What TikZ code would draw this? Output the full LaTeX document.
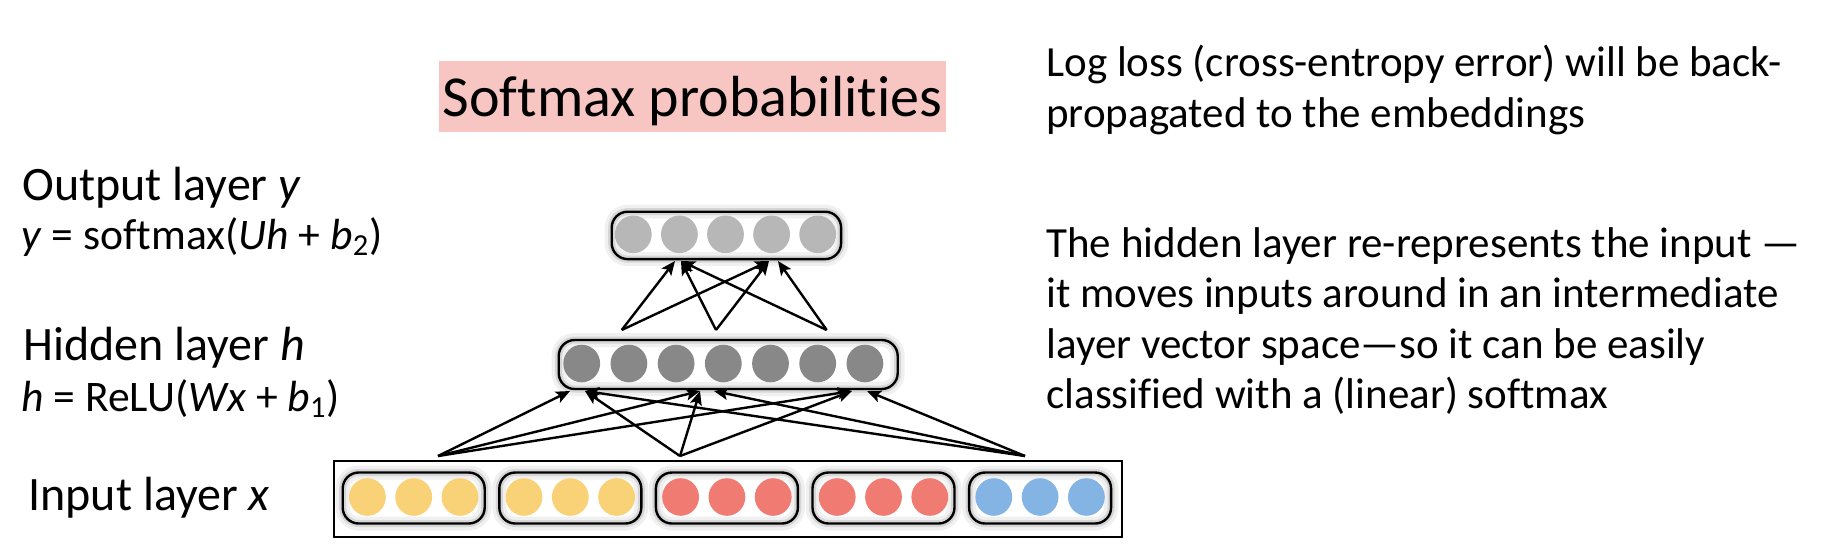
\documentclass[tikz,border=0pt]{standalone}
\usepackage{xcolor}
\usepackage{fontspec}
\setmainfont{Carlito}[Ligatures=NoCommon]
\usepackage{tikz}
\usetikzlibrary{arrows.meta, shapes.geometric}

\definecolor{softpink}{RGB}{247,198,195}
\definecolor{inyellow}{RGB}{249,209,118}
\definecolor{inred}{RGB}{240,123,114}
\definecolor{inblue}{RGB}{132,180,228}
\definecolor{hidgray}{RGB}{136,136,136}
\definecolor{outgray}{RGB}{183,183,183}

\begin{document}
\begin{tikzpicture}[x=0.5pt, y=-0.5pt,
    neuron/.style={ellipse, inner sep=0pt, minimum width=18.4pt, minimum height=18.8pt},
    layerbox/.style={draw, line width=1.2pt, rounded corners=8pt, inner sep=0pt,
        preaction={draw=black!6, line width=7pt},
        preaction={draw=black!16, line width=3.5pt}},
    link/.style={-{Stealth[length=7pt, width=6pt, inset=1.5pt]}, line width=1.2pt},
    laytext/.style={anchor=base west, inner sep=0pt, font=\fontsize{24}{28}\selectfont},
    eqtext/.style={anchor=base west, inner sep=0pt, font=\fontsize{21.8}{26}\selectfont},
    sidenote/.style={anchor=base west, inner sep=0pt, align=left,
        font=\fontsize{21.5}{25.3}\selectfont}]

    \useasboundingbox (0,0) rectangle (1836,554);

    % Title box
    \node[fill=softpink, minimum width=253.5pt, minimum height=35.3pt, inner sep=0pt,
        text height=24pt, text depth=3.6pt, font=\fontsize{29}{34}\selectfont]
        (title) at (692.5,96.3) {Softmax probabilities};

    % Input layer x (five word vectors)
    \node[draw, line width=1pt, minimum width=394pt, minimum height=38.2pt] (inrow) at (728,498.7) {};
    \foreach \g/\col in {0/inyellow, 1/inyellow, 2/inred, 3/inred, 4/inblue} {
        \node[layerbox, minimum width=71pt, minimum height=25.5pt] (grp\g) at (413.7+156.6*\g,498) {};
        \foreach \k in {1,2,3}
            \node[neuron, fill=\col] (in\g\k) at (413.7+156.6*\g+46.3*\k-92.6,497) {};
    }

    % Hidden layer h
    \node[layerbox, minimum width=169.5pt, minimum height=24.5pt] (hidbox) at (728.2,364.5) {};
    \foreach \k in {1,...,7}
        \node[neuron, fill=hidgray] (h\k) at (534.5+47.2*\k,363.5) {};

    % Output layer y
    \node[layerbox, minimum width=114.7pt, minimum height=23.7pt] (outbox) at (726.4,235.4) {};
    \foreach \k in {1,...,5}
        \node[neuron, fill=outgray] (o\k) at (587.2+46.1*\k,234.3) {};

    % where the connections start and end
    \coordinate (srcA) at (438,456);
    \coordinate (srcB) at (680,456);
    \coordinate (srcC) at (1025,456);
    \coordinate (hL1) at (570,391);  \coordinate (hR1) at (585,391);
    \coordinate (hL2) at (700,391);  \coordinate (hR2) at (714,391);
    \coordinate (hL3) at (852,391);  \coordinate (hR3) at (867,391);
    \coordinate (hs1) at (621.7,330);
    \coordinate (hs2) at (716,330);
    \coordinate (hs3) at (826.7,330);
    \coordinate (oL1) at (675,261);  \coordinate (oR1) at (681,261);
    \coordinate (oL2) at (769,261);  \coordinate (oR2) at (778,261);

    % Input -> hidden
    \foreach \s/\t in {srcA/hL1, srcA/hL2, srcA/hL3, srcB/hR1, srcB/hL2, srcB/hL3,
                       srcC/hR1, srcC/hR2, srcC/hR3}
        \draw[link] (\s) -- (\t);

    % Hidden -> output
    \foreach \s/\t in {hs1/oL1, hs1/oL2, hs2/oR1, hs2/oL2, hs3/oR1, hs3/oR2}
        \draw[link] (\s) -- (\t);

    % Layer names
    \node[laytext] (outlab) at (22,200) {Output layer \textit{y}};
    \node[eqtext] (outeq) at (21,249) {\textit{y} = softmax(\textit{Uh} + \textit{b}\textsubscript{2})};
    \node[laytext] (hidlab) at (23,360) {Hidden layer \textit{h}};
    \node[eqtext] (hideq) at (21,411.7) {\textit{h} = ReLU(\textit{Wx} + \textit{b}\textsubscript{1})};
    \node[laytext] (inlab) at (28,510.7) {Input layer \textit{x}};

    % Notes on the right (base = last line)
    \node[sidenote] (lossnote) at (1046,127)
        {Log loss (cross-entropy error) will be back-\\propagated to the embeddings};
    \node[sidenote] (hidnote) at (1046,408.8)
        {The hidden layer re-represents the input —\\it moves inputs around in an intermediate\\layer vector space—so it can be easily\\classified with a (linear) softmax};

\end{tikzpicture}
\end{document}
